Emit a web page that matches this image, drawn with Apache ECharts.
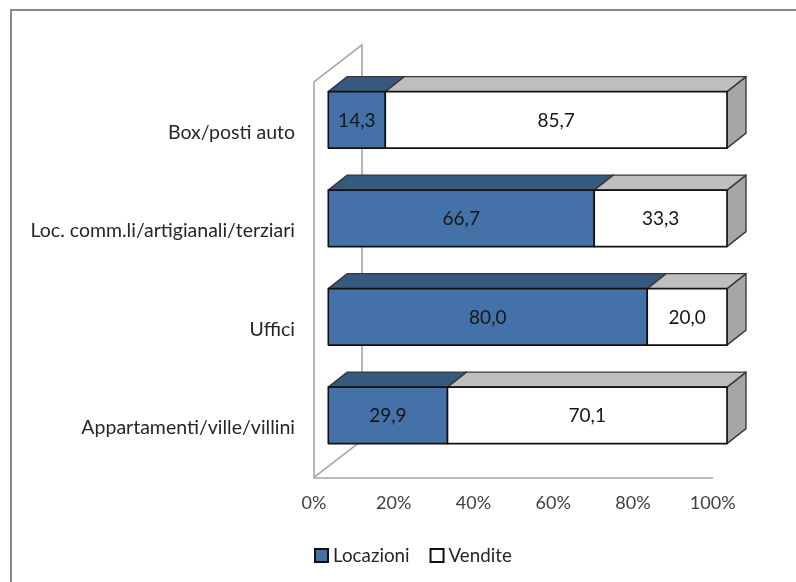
<!DOCTYPE html>
<html>
<head>
<meta charset="utf-8">
<style>html,body{margin:0;padding:0;background:#fff}#chart{width:796px;height:582px}</style>
<script src="https://cdn.jsdelivr.net/npm/echarts@6/dist/echarts.min.js"></script>
</head>
<body>
<div id="chart"></div>
<script>
// Share of rentals and sales per property type, percent
const categories = ['Appartamenti/ville/villini', 'Uffici', 'Loc. comm.li/artigianali/terziari', 'Box/posti auto'];
const locazioni = [29.9, 80.0, 66.7, 14.3];
const vendite = [70.1, 20.0, 33.3, 85.7];
const tickValues = [0, 20, 40, 60, 80, 100];

const FONT = 'Lato, "Open Sans", sans-serif';

// Extruded-bar projection, in pixels
const SHIFT_X = 14.3, SHIFT_Y = -12.7;
const DEPTH_X = 19, DEPTH_Y = 15;
const BAR_H = 56.5;
const WALL_X = 48, WALL_Y = 37;

function barRenderer(faces) {
  return function (params, api) {
    const from = api.coord([api.value(0), api.value(2)]);
    const to = api.coord([api.value(1), api.value(2)]);
    const x0 = from[0] + SHIFT_X, x1 = to[0] + SHIFT_X;
    const yc = from[1] + SHIFT_Y;
    const yt = yc - BAR_H / 2, yb = yc + BAR_H / 2;
    const edge = { stroke: '#3a3a3a', lineWidth: 1.4, lineJoin: 'round' };
    const rim = { stroke: '#111', lineWidth: 1.6, lineJoin: 'round' };
    return {
      type: 'group',
      children: [
        { type: 'polygon', shape: { points: [[x1, yt], [x1 + DEPTH_X, yt - DEPTH_Y], [x1 + DEPTH_X, yb - DEPTH_Y], [x1, yb]] },
          style: Object.assign({ fill: faces.side }, edge) },
        { type: 'polygon', shape: { points: [[x0, yt], [x0 + DEPTH_X, yt - DEPTH_Y], [x1 + DEPTH_X, yt - DEPTH_Y], [x1, yt]] },
          style: Object.assign({ fill: faces.top }, edge) },
        { type: 'rect', shape: { x: x0, y: yt, width: x1 - x0, height: BAR_H },
          style: Object.assign({ fill: faces.front }, rim) },
        { type: 'text', style: {
            text: api.value(3).toFixed(1).replace('.', ','),
            x: (x0 + x1) / 2, y: yc + 1,
            align: 'center', verticalAlign: 'middle',
            font: '19px ' + FONT, fill: '#161616' } }
      ]
    };
  };
}

// Left wall and floor diagonal of the box behind the bars
function wallRenderer(params) {
  const g = params.coordSys;
  const xl = g.x, yb = g.y + g.height, yt = g.y;
  const line = { stroke: '#a6a6a6', lineWidth: 1.6, fill: null };
  return {
    type: 'group',
    children: [
      { type: 'polyline', shape: { points: [[xl, yb], [xl, yt - 1.5], [xl + WALL_X, yt - 1.5 - WALL_Y], [xl + WALL_X, yb - WALL_Y]] }, style: line },
      { type: 'line', shape: { x1: xl, y1: yb, x2: xl + WALL_X, y2: yb - WALL_Y }, style: line }
    ]
  };
}

const locRows = locazioni.map((v, i) => [0, v, i, v]);
const venRows = vendite.map((v, i) => [locazioni[i], locazioni[i] + v, i, v]);

const chart = echarts.init(document.getElementById('chart'), null, { renderer: 'canvas' });
chart.setOption({
  animation: false,
  backgroundColor: '#fff',
  textStyle: { fontFamily: FONT },
  graphic: [
    { type: 'line', silent: true, shape: { x1: 10, y1: 10, x2: 796, y2: 10 }, style: { stroke: '#888', lineWidth: 2 } },
    { type: 'line', silent: true, shape: { x1: 11, y1: 9, x2: 11, y2: 582 }, style: { stroke: '#888', lineWidth: 2 } }
  ],
  grid: { left: 314, top: 83.3, width: 398.7, height: 394 },
  xAxis: {
    type: 'value', min: 0, max: 100, interval: 20,
    axisLine: { show: true, lineStyle: { color: '#a6a6a6', width: 1.6 } },
    axisTick: { show: false }, splitLine: { show: false },
    axisLabel: { margin: 17, fontSize: 18, color: '#404040', fontFamily: FONT,
      formatter: v => tickValues.includes(v) ? v + '%' : '' }
  },
  yAxis: {
    type: 'category', data: categories,
    axisLine: { show: false }, axisTick: { show: false },
    axisLabel: { margin: 19, fontSize: 19.5, color: '#262626', fontFamily: FONT }
  },
  legend: {
    data: ['Locazioni', 'Vendite'],
    left: 314, top: 546, padding: 0,
    itemWidth: 13, itemHeight: 13, itemGap: 20,
    icon: 'rect',
    textStyle: { fontSize: 18.8, color: '#262626', fontFamily: FONT },
    selectedMode: false
  },
  series: [
    { type: 'custom', name: 'wall', silent: true, z: 1, data: [[0, 0]], renderItem: wallRenderer, encode: { x: 0, y: 1 } },
    { type: 'custom', name: 'Locazioni', z: 2, data: locRows,
      itemStyle: { color: '#4472a8', borderColor: '#111', borderWidth: 2 },
      renderItem: barRenderer({ front: '#4472a8', top: '#35597f', side: '#35597f' }),
      encode: { x: [0, 1], y: 2 } },
    { type: 'custom', name: 'Vendite', z: 3, data: venRows,
      itemStyle: { color: '#ffffff', borderColor: '#111', borderWidth: 2 },
      renderItem: barRenderer({ front: '#ffffff', top: '#bfbfbf', side: '#a6a6a6' }),
      encode: { x: [0, 1], y: 2 } }
  ]
});
</script>
</body>
</html>
